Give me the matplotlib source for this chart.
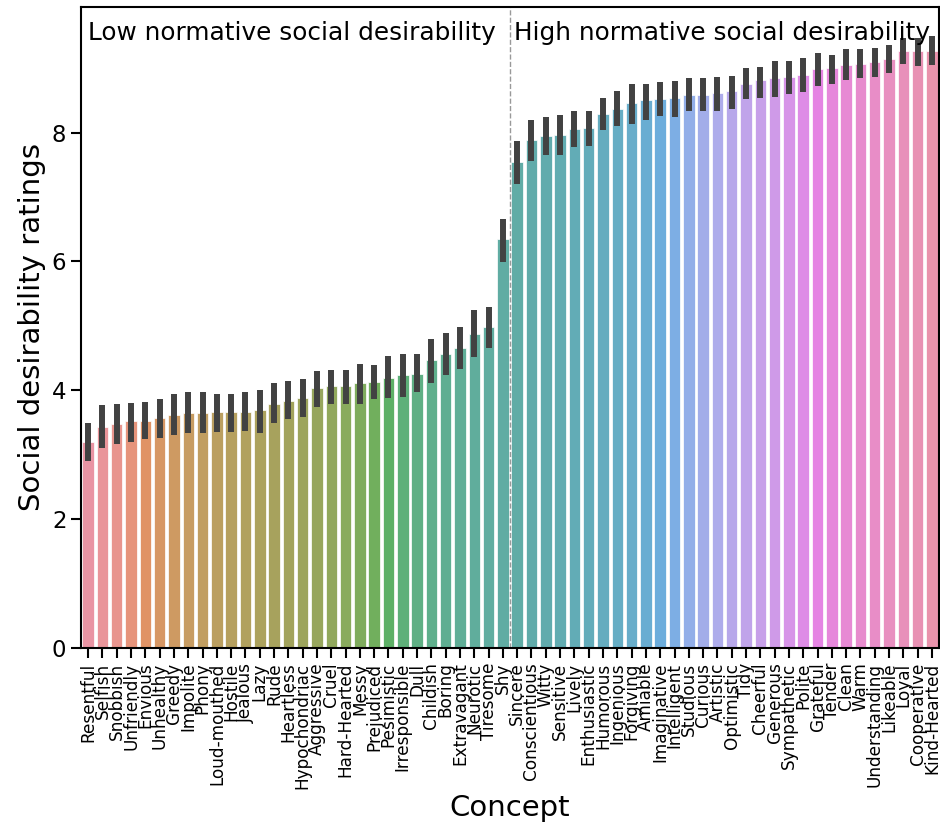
import numpy as np
import matplotlib
matplotlib.use("Agg")
import matplotlib.pyplot as plt
import seaborn as sns

# concepts ordered by mean rating
concepts = ["Resentful", "Selfish", "Snobbish", "Unfriendly", "Envious", "Unhealthy",
            "Greedy", "Impolite", "Phony", "Loud-mouthed", "Hostile", "Jealous",
            "Lazy", "Rude", "Heartless", "Hypochondriac", "Aggressive", "Cruel",
            "Hard-Hearted", "Messy", "Prejudiced", "Pesimistic", "Irresponsible",
            "Dull", "Childish", "Boring", "Extravagant", "Neurotic", "Tiresome", "Shy",
            "Sincere", "Conscientious", "Witty", "Sensitive", "Lively", "Enthusiastic",
            "Humorous", "Ingenious", "Forgiving", "Amiable", "Imaginative",
            "Intelligent", "Studious", "Curious", "Artistic", "Optimistic", "Tidy",
            "Cheerful", "Generous", "Sympathetic", "Polite", "Grateful", "Tender",
            "Clean", "Warm", "Understanding", "Likeable", "Loyal", "Cooperative",
            "Kind-Hearted"]

means = [3.19, 3.43, 3.48, 3.52, 3.52, 3.57, 3.61, 3.64, 3.65, 3.66, 3.66, 3.67,
         3.69, 3.78, 3.84, 3.88, 4.03, 4.06, 4.07, 4.11, 4.13, 4.19, 4.24, 4.26,
         4.47, 4.56, 4.66, 4.88, 4.98, 6.35,
         7.55, 7.88, 7.95, 7.97, 8.05, 8.07, 8.29, 8.37, 8.46, 8.50, 8.52, 8.53,
         8.59, 8.59, 8.61, 8.64, 8.76, 8.81, 8.85, 8.86, 8.90, 8.99, 9.00, 9.05,
         9.07, 9.09, 9.15, 9.27, 9.27, 9.27]

ci_low = [2.90, 3.10, 3.17, 3.19, 3.24, 3.26, 3.30, 3.34, 3.33, 3.36, 3.36, 3.37,
          3.34, 3.50, 3.56, 3.58, 3.74, 3.79, 3.79, 3.79, 3.86, 3.88, 3.89, 3.98,
          4.12, 4.24, 4.33, 4.51, 4.65, 5.99,
          7.20, 7.56, 7.66, 7.65, 7.78, 7.79, 8.04, 8.10, 8.13, 8.20, 8.26, 8.24,
          8.33, 8.34, 8.34, 8.36, 8.52, 8.54, 8.55, 8.60, 8.63, 8.73, 8.76, 8.82,
          8.84, 8.86, 8.92, 9.06, 9.04, 9.05]

ci_high = [3.49, 3.77, 3.78, 3.81, 3.82, 3.87, 3.94, 3.97, 3.97, 3.95, 3.95, 3.97,
           4.00, 4.11, 4.15, 4.18, 4.30, 4.31, 4.31, 4.41, 4.40, 4.54, 4.57, 4.56,
           4.79, 4.89, 4.98, 5.25, 5.29, 6.66,
           7.87, 8.19, 8.24, 8.27, 8.33, 8.33, 8.54, 8.64, 8.75, 8.75, 8.79, 8.80,
           8.85, 8.84, 8.87, 8.88, 9.01, 9.02, 9.11, 9.11, 9.16, 9.24, 9.21, 9.29,
           9.29, 9.31, 9.36, 9.47, 9.47, 9.50]

n_low = 30  # number of low-desirability concepts

x = np.arange(len(concepts))
m = np.array(means)
yerr = [m - np.array(ci_low), np.array(ci_high) - m]
colors = [sns.desaturate(c, 0.75) for c in sns.color_palette("husl", len(concepts))]

fig = plt.figure(figsize=(9.4, 8.3), dpi=100)
ax = fig.add_axes([0.0862, 0.2193, 0.9128, 0.7723])

ax.bar(x, m, width=0.8, color=colors, alpha=0.85, edgecolor="white", linewidth=0.6)
ax.errorbar(x, m, yerr=yerr, fmt="none", ecolor="#424242", elinewidth=4.3, capsize=0)

ax.axvline(n_low - 0.5, color="#999999", linestyle="--", linewidth=1)
ax.text(0.0, 9.55, "Low normative social desirability", fontsize=17.8, va="center")
ax.text(n_low - 0.25, 9.55, "High normative social desirability", fontsize=17.8, va="center")

ax.set_xlim(-0.5, len(concepts) - 0.5)
ax.set_ylim(0, 9.95)
ax.set_yticks([0, 2, 4, 6, 8])
ax.set_xticks(x)
ax.set_xticklabels(concepts, rotation=90, fontsize=12.2)
ax.tick_params(axis="y", labelsize=16.5, length=7, width=1.5)
ax.tick_params(axis="x", length=7, width=1.5)
for s in ax.spines.values():
    s.set_linewidth(1.5)

ax.set_xlabel("Concept", fontsize=21)
ax.set_ylabel("Social desirability ratings", fontsize=21)

fig.savefig("out.png", dpi=100)
